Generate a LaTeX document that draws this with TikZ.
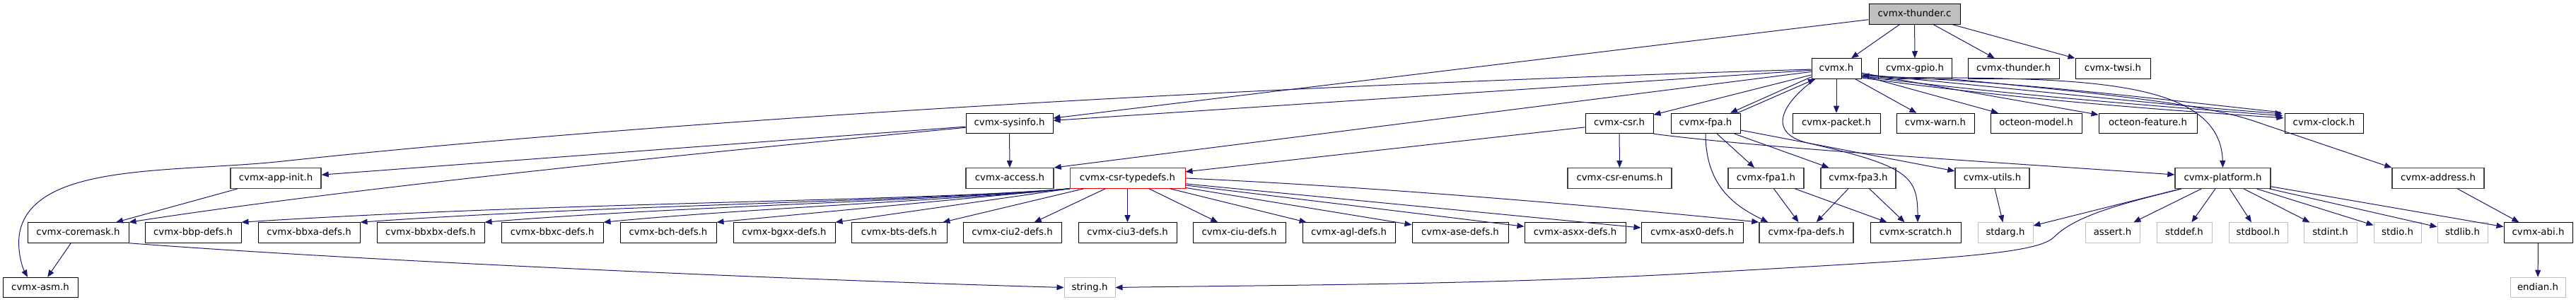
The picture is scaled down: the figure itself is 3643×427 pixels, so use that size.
\documentclass[tikz,border=0pt]{standalone}
\usepackage{fontspec}
\newfontfamily\dvs{DejaVu Sans}
\usetikzlibrary{arrows.meta,calc}
\definecolor{edgeblue}{HTML}{191970}
\definecolor{sysgray}{HTML}{BFBFBF}
\definecolor{topfill}{HTML}{BFBFBF}
\definecolor{darkb}{HTML}{404040}
\begin{document}
\begin{tikzpicture}[x=1pt,y=-1pt,
  nbox/.style={draw=black,line width=1pt,fill=white,inner sep=0pt,
    minimum height=28.5pt,text height=10pt,text depth=3pt,
    font={\dvs\fontsize{13.3}{15}\selectfont}},
  w/.style={minimum width=#1pt},
  dk/.style={draw=darkb,line width=1.4pt},
  sysb/.style={draw=sysgray},
  redb/.style={draw=red},
  topb/.style={fill=topfill},
  edg/.style={draw=edgeblue,line width=1pt,-{Triangle[length=10pt,width=8pt]}}]
\useasboundingbox (0,0) rectangle (3643,427);
\fill[white] (0,0) rectangle (3643,427);
% row 1
\node[nbox,topb,w=129] (thunderc) at (2707.5,20) {cvmx-thunder.c};
% row 2
\node[nbox,w=70]  (cvmxh)    at (2597,97)   {cvmx.h};
\node[nbox,w=104] (gpio)     at (2708,97)   {cvmx-gpio.h};
\node[nbox,w=129] (thunderh) at (2847.5,97) {cvmx-thunder.h};
\node[nbox,w=106] (twsi)     at (2988,97)   {cvmx-twsi.h};
% row 3
\node[nbox,w=123] (sysinfo) at (1427.5,174.5) {cvmx-sysinfo.h};
\node[nbox,w=96]  (csr)     at (2290,174.5)   {cvmx-csr.h};
\node[nbox,w=98]  (fpa)     at (2412,174.5)   {cvmx-fpa.h};
\node[nbox,w=124] (packet)  at (2597,174.5)   {cvmx-packet.h};
\node[nbox,w=110] (warn)    at (2737,174.5)   {cvmx-warn.h};
\node[nbox,w=129] (model)   at (2879.5,174.5) {octeon-model.h};
\node[nbox,w=139] (feature) at (3037.5,174.5) {octeon-feature.h};
\node[nbox,w=111] (clock)   at (3286.5,174.5) {cvmx-clock.h};
% row 4
\node[nbox,dk,w=128] (appinit)  at (390,252)    {cvmx-app-init.h};
\node[nbox,dk,w=124] (access)   at (1428,252)   {cvmx-access.h};
\node[nbox,redb,w=163] (typedefs) at (1594.5,252) {cvmx-csr-typedefs.h};
\node[nbox,dk,w=147] (enums)    at (2290.5,252) {cvmx-csr-enums.h};
\node[nbox,dk,w=107] (fpa1)     at (2497.5,252) {cvmx-fpa1.h};
\node[nbox,dk,w=106] (fpa3)     at (2628,252)   {cvmx-fpa3.h};
\node[nbox,dk,w=105] (utils)    at (2817.5,252) {cvmx-utils.h};
\node[nbox,dk,w=135] (platform) at (3143.5,252) {cvmx-platform.h};
\node[nbox,dk,w=130] (address)  at (3448,252)   {cvmx-address.h};
% row 5
\node[nbox,w=143] (coremask) at (110.5,329)  {cvmx-coremask.h};
\node[nbox,w=136] (bbp)      at (273,329)    {cvmx-bbp-defs.h};
\node[nbox,w=144] (bbxa)     at (437,329)    {cvmx-bbxa-defs.h};
\node[nbox,w=152] (bbxbx)    at (609,329)    {cvmx-bbxbx-defs.h};
\node[nbox,w=144] (bbxc)     at (781,329)    {cvmx-bbxc-defs.h};
\node[nbox,w=136] (bch)      at (945,329)    {cvmx-bch-defs.h};
\node[nbox,w=144] (bgxx)     at (1109,329)   {cvmx-bgxx-defs.h};
\node[nbox,w=135] (bts)      at (1271.5,329) {cvmx-bts-defs.h};
\node[nbox,w=139] (ciu2)     at (1431.5,329) {cvmx-ciu2-defs.h};
\node[nbox,w=139] (ciu3)     at (1594.5,329) {cvmx-ciu3-defs.h};
\node[nbox,w=131] (ciu)      at (1752.5,329) {cvmx-ciu-defs.h};
\node[nbox,w=131] (agl)      at (1907.5,329) {cvmx-agl-defs.h};
\node[nbox,w=136] (ase)      at (2065,329)   {cvmx-ase-defs.h};
\node[nbox,w=143] (asxx)     at (2227.5,329) {cvmx-asxx-defs.h};
\node[nbox,w=144] (asx0)     at (2393,329)   {cvmx-asx0-defs.h};
\node[nbox,dk,w=133] (fpadefs) at (2554.5,329) {cvmx-fpa-defs.h};
\node[nbox,w=128] (scratch)  at (2709,329)   {cvmx-scratch.h};
\node[nbox,sysb,w=78] (stdarg)  at (2836,329)   {stdarg.h};
\node[nbox,sysb,w=77] (assert)  at (2987.5,329) {assert.h};
\node[nbox,sysb,w=78] (stddef)  at (3089,329)   {stddef.h};
\node[nbox,sysb,w=83] (stdbool) at (3193.5,329) {stdbool.h};
\node[nbox,sysb,w=75] (stdint)  at (3295.5,329) {stdint.h};
\node[nbox,sysb,w=67] (stdio)   at (3390.5,329) {stdio.h};
\node[nbox,sysb,w=71] (stdlib)  at (3482.5,329) {stdlib.h};
\node[nbox,w=97] (abi)          at (3589.5,329) {cvmx-abi.h};
% row 6
\node[nbox,w=106] (asm)          at (57,406.5)   {cvmx-asm.h};
\node[nbox,sysb,w=72] (string)   at (1541,406.5) {string.h};
\node[nbox,sysb,w=78] (endian)   at (3589,406.5) {endian.h};

% edges from cvmx-thunder.c
\draw[edg] (thunderc) -- (cvmxh);
\draw[edg] (thunderc) -- (gpio);
\draw[edg] (thunderc) -- (thunderh);
\draw[edg] (thunderc) -- (twsi);
\draw[edg] (thunderc) -- (sysinfo);
% edges from cvmx.h
\draw[edg] (cvmxh) .. controls (1500,130) and (750,190) .. (400,228)
  .. controls (250,244) and (60,230) .. (30,320)
  .. controls (22,344) and (30,375) .. ($(asm.north)+(-18,0)$);
\draw[edg] (cvmxh) -- (sysinfo);
\draw[edg] (cvmxh) -- (access.north east);
\draw[edg] (cvmxh) -- (csr);
\draw[edg] ($(cvmxh.south west)+(0,-3)$) -- ($(fpa.north)+(35,0)$);
\draw[edg] ($(fpa.north)+(45,0)$) -- ($(cvmxh.south)+(-30,0)$);
\draw[edg] (cvmxh) -- (packet);
\draw[edg] (cvmxh) -- (warn);
\draw[edg] (cvmxh) -- (model);
\draw[edg] (cvmxh) -- (feature);
\draw[edg] ($(cvmxh.east)+(0,8)$) .. controls (2850,125) and (3050,148) .. ($(clock.north west)+(-3,1)$);
\draw[edg] ($(cvmxh.east)+(0,11)$) .. controls (2850,135) and (3050,150) .. ($(clock.north west)+(-2,4)$);
\draw[edg] ($(cvmxh.east)+(0,13)$) .. controls (2850,140) and (3050,155) .. ($(clock.north west)+(-1,7)$);
\draw[edg] ($(clock.north west)+(-5,-1)$) .. controls (3050,140) and (2850,115) .. ($(cvmxh.east)+(1,10)$);
\draw[edg] ($(cvmxh.east)+(0,12)$) .. controls (2900,112) and (3140,100) .. (platform.north);
\draw[edg] ($(cvmxh.south)+(-30,0)$) .. controls (2515,150) and (2500,190) .. (2560,203)
  .. controls (2700,235) and (2712,250) .. ($(scratch.north)+(3,0)$);
% gpio
\draw[edg] (gpio.south east) .. controls (3000,135) and (3120,148) .. (3190,172) -- (address.north west);
% sysinfo
\draw[edg] (sysinfo) -- (access);
\draw[edg] (sysinfo) -- (appinit);
\draw[edg] (sysinfo) .. controls (1000,215) and (500,265) .. (coremask.north east);
% app-init, coremask
\draw[edg] (appinit) -- (coremask);
\draw[edg] (coremask) -- (asm);
\draw[edg] (coremask.south east) .. controls (500,368) and (1100,395) .. (string.west);
% csr
\draw[edg] (csr) -- (enums);
\draw[edg] (csr) -- (typedefs);
\draw[edg] (csr.south east) .. controls (2500,210) and (2800,228) .. ($(platform.west)+(0,-5)$);
% fpa
\draw[edg] (fpa) -- (fpa1);
\draw[edg] (fpa) -- (fpa3);
\draw[edg] (fpa) -- (utils);
\draw[edg] (fpa.south) .. controls (2412,260) and (2450,290) .. ($(fpadefs.north west)+(13,0)$);
\draw[edg] (fpa1) -- (fpadefs);
\draw[edg] (fpa1) -- (scratch);
\draw[edg] (fpa3) -- (fpadefs);
\draw[edg] (fpa3) -- (scratch);
\draw[edg] (utils) -- (stdarg);
% csr-typedefs fan
\draw[edg] (typedefs.south west) .. controls (1300,285) and (800,285) .. (bbp.north east);
\draw[edg] (typedefs.south west) .. controls (1300,285) and (850,290) .. (bbxa.north east);
\draw[edg] (typedefs.south west) .. controls (1350,283) and (950,292) .. (bbxbx.north east);
\draw[edg] (typedefs.south west) .. controls (1400,280) and (1050,295) .. (bbxc.north east);
\draw[edg] (typedefs.south west) -- (bch.north east);
\draw[edg] (typedefs.south west) -- (bgxx.north east);
\draw[edg] (typedefs) -- (bts);
\draw[edg] (typedefs) -- (ciu2);
\draw[edg] (typedefs) -- (ciu3);
\draw[edg] (typedefs) -- (ciu);
\draw[edg] (typedefs) -- (agl);
\draw[edg] (typedefs) -- (ase);
\draw[edg] (typedefs) -- (asxx);
\draw[edg] (typedefs) -- (asx0);
\draw[edg] (typedefs.east) .. controls (1900,262) and (2200,285) .. (fpadefs.north west);
% platform
\draw[edg] (platform) -- (stdarg);
\draw[edg] (platform) -- (assert);
\draw[edg] (platform) -- (stddef);
\draw[edg] (platform) -- (stdbool);
\draw[edg] (platform) -- (stdint);
\draw[edg] (platform) -- (stdio);
\draw[edg] (platform) -- (stdlib);
\draw[edg] (platform) -- (abi);
\draw[edg] ($(platform.south west)+(10,0)$) .. controls (3000,288) and (2935,305) .. (2905,335)
  .. controls (2880,360) and (2750,366) .. (2400,386)
  .. controls (2100,403) and (1800,403) .. (string.east);
% address, abi
\draw[edg] (address) -- (abi);
\draw[edg] (abi) -- (endian);
\end{tikzpicture}
\end{document}
